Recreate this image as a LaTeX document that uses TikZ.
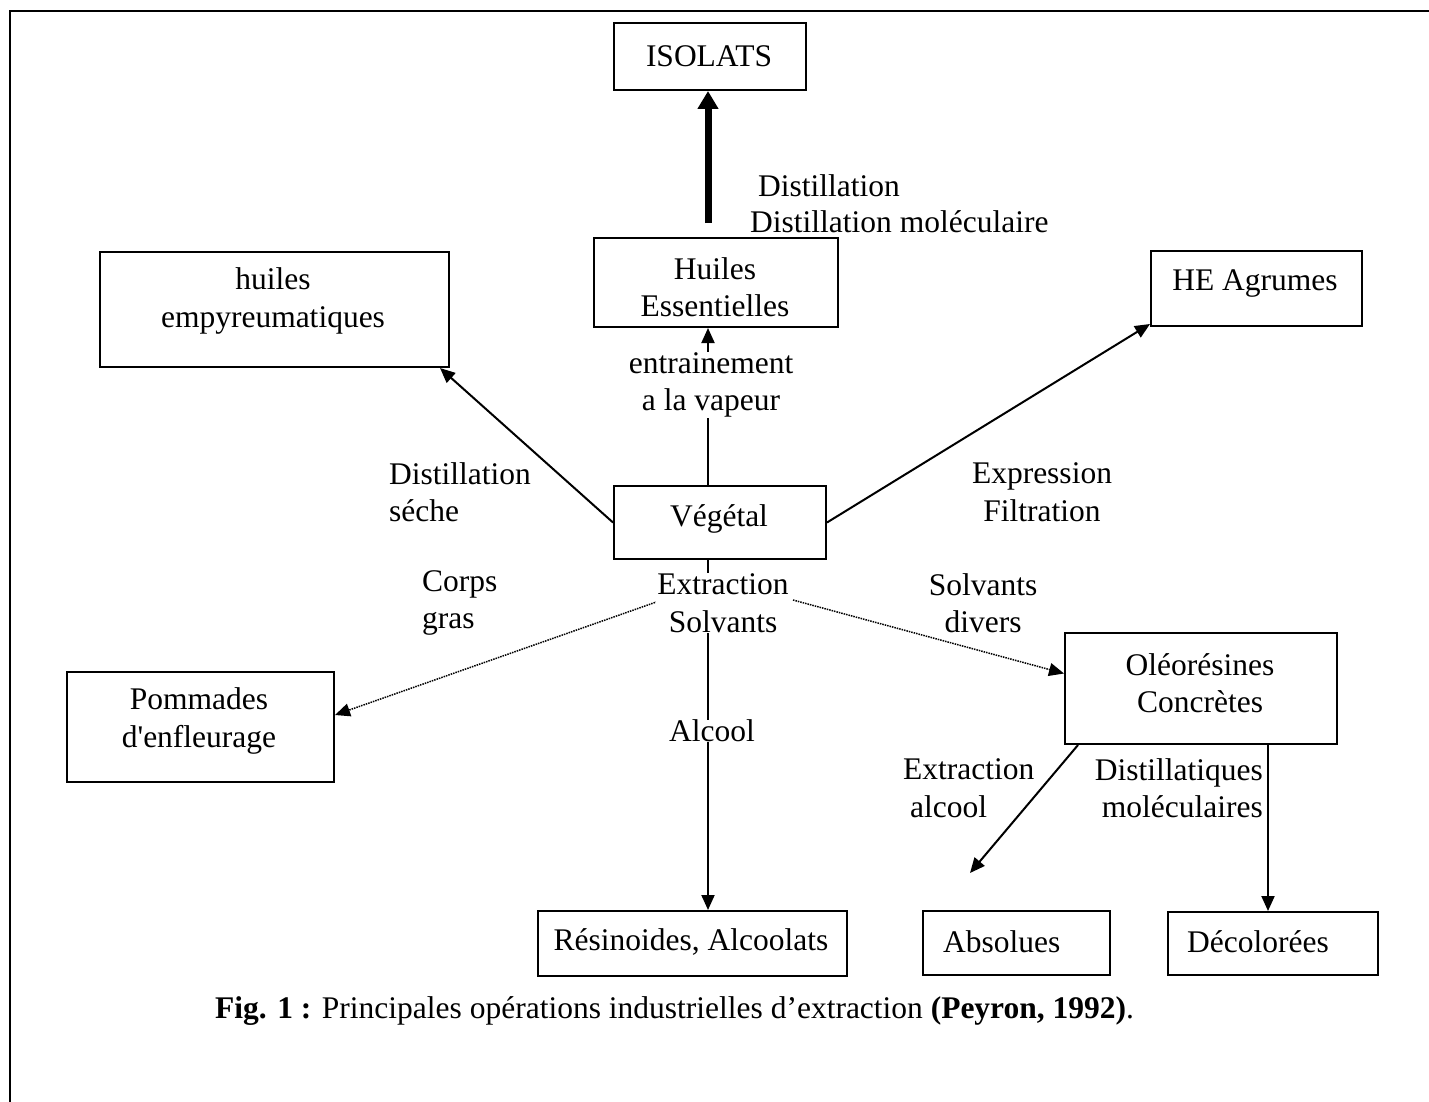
\documentclass[tikz,border=0pt]{standalone}
\usepackage{fontspec}
\setmainfont{Liberation Serif}[Ligatures=TeXOff]
\usetikzlibrary{arrows.meta,calc}
\tikzset{
  box/.style={draw, line width=2pt, inner sep=0pt, anchor=north west},
  txt/.style={font=\fontsize{31.5}{37.5}\selectfont, align=center, inner sep=0pt},
  lbl/.style={txt, fill=white, inner sep=1pt},
  conn/.style={line width=2pt, -{Triangle[length=15pt,width=13pt]}},
  dconn/.style={line width=1.5pt, densely dotted, -{Triangle[length=15pt,width=13pt]}},
  bigconn/.style={line width=7pt, -{Triangle[length=18pt,width=20pt]}}
}
\begin{document}
\begin{tikzpicture}[x=1pt,y=-1pt]
\useasboundingbox (0,0) rectangle (1429,1102);
% frame
\draw[line width=2.5pt] (10,1120) -- (10,11) -- (1450,11);
% boxes
\node[box, minimum width=192pt, minimum height=67pt] (iso) at (613,22) {};
\node[box, minimum width=244pt, minimum height=89pt] (he) at (593,237) {};
\node[box, minimum width=349pt, minimum height=115pt] (emp) at (99,251) {};
\node[box, minimum width=211pt, minimum height=75pt] (agr) at (1150,250) {};
\node[box, minimum width=212pt, minimum height=73pt] (veg) at (613,485) {};
\node[box, minimum width=267pt, minimum height=110pt] (pom) at (66,671) {};
\node[box, minimum width=272pt, minimum height=111pt] (ole) at (1064,632) {};
\node[box, minimum width=309pt, minimum height=65pt] (res) at (537,910) {};
\node[box, minimum width=187pt, minimum height=64pt] (abs) at (922,910) {};
\node[box, minimum width=210pt, minimum height=63pt] (dec) at (1167,911) {};
% box texts
\node[txt] (isot) at (709,56) {ISOLATS};
\node[txt] (het) at (715,287) {Huiles\\Essentielles};
\node[txt] (empt) at (273,301) {huiles\\empyreumatiques};
\node[txt] (agrt) at (1255,284) {HE Agrumes};
\node[txt] (vegt) at (719,519) {Végétal};
\node[txt] (pomt) at (199,721) {Pommades\\d'enfleurage};
\node[txt] (olet) at (1200,683) {Oléorésines\\Concrètes};
\node[txt] (rest) at (691,942) {Résinoides, Alcoolats};
\node[txt, anchor=west] (abst) at (943,942) {Absolues};
\node[txt, anchor=west] (dect) at (1187,942) {Décolorées};
% helper coordinates
\coordinate (axis) at (708,0);
\coordinate (dx) at (1268,0);
\coordinate (ds1) at (662,600);
\coordinate (ds2) at (793,600);
\coordinate (absend) at (970,873);
% connectors
\draw[bigconn, shorten <=14pt] (he.north -| axis) -- (iso.south -| axis);
\draw[conn] (veg.north -| axis) -- (he.south -| axis);
\draw[conn] (veg.west) -- ($(emp.south east)+(-10,0)$);
\draw[conn] (veg.east) -- ($(agr.south west)+(0,-3)$);
\draw[dconn] (ds1) -- ($(pom.east)+(0,-12)$);
\draw[dconn] (ds2) -- ($(ole.west)+(0,-15)$);
\draw[conn] (veg.south -| axis) -- (res.north -| axis);
\draw[conn] ($(ole.south west)+(14,0)$) -- (absend);
\draw[conn] (ole.south -| dx) -- (dec.north -| dx);
% labels
\node[txt, anchor=west] (dist1) at (758,186) {Distillation};
\node[txt, anchor=west] (dist2) at (750,222) {Distillation moléculaire};
\node[lbl, inner sep=0pt] (entr) at (711,385) {entrainement\\a la vapeur};
\node[txt, anchor=west, align=left] (dsec) at (389,492) {Distillation\\séche};
\node[txt] (expr) at (1042,492) {Expression\\Filtration};
\node[txt, anchor=west, align=left] (corps) at (422,603) {Corps\\gras};
\node[lbl] (extsol) at (723,603) {Extraction\\Solvants};
\node[txt] (solvd) at (983,603) {Solvants\\divers};
\node[lbl, inner sep=0pt] (alc) at (712,731) {Alcool};
\node[txt, anchor=west, align=left] (extalc) at (903,788) {Extraction\\\hspace*{7pt}alcool};
\node[txt, anchor=east, align=right] (dmol) at (1263,788) {Distillatiques\\moléculaires};
\node[txt, anchor=west] (cap) at (215,1011) {\textbf{Fig. 1 :} Principales opérations industrielles d’extraction \textbf{(Peyron, 1992)}.};
\end{tikzpicture}
\end{document}
